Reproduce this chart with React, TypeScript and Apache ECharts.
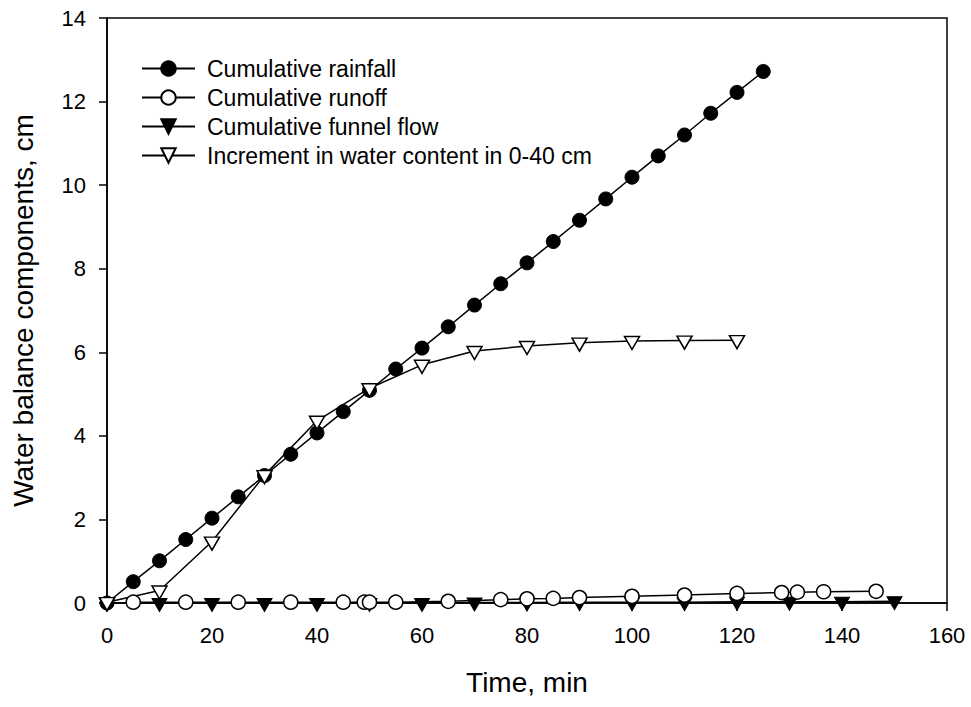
import React, { useEffect, useRef } from "react";
import * as echarts from "echarts";

const rainTime = [0, 5, 10, 15, 20, 25, 30, 35, 40, 45, 50, 55, 60, 65, 70, 75, 80, 85, 90, 95, 100, 105, 110, 115, 120, 125];
const rainValue = [0, 0.51, 1.01, 1.52, 2.03, 2.54, 3.05, 3.56, 4.07, 4.58, 5.09, 5.6, 6.1, 6.61, 7.13, 7.64, 8.14, 8.65, 9.16, 9.67, 10.19, 10.7, 11.2, 11.72, 12.22, 12.72];

const runoffTime = [5, 15, 25, 35, 45, 49, 50, 55, 65, 75, 80, 85, 90, 100, 110, 120, 128.5, 131.5, 136.5, 146.5];
const runoffValue = [0.02, 0.02, 0.02, 0.02, 0.02, 0.02, 0.02, 0.02, 0.04, 0.08, 0.1, 0.11, 0.13, 0.16, 0.19, 0.23, 0.25, 0.26, 0.27, 0.28];

const funnelTime = [0, 10, 20, 30, 40, 50, 60, 70, 80, 90, 100, 110, 120, 130, 140, 150];
const funnelValue = [0, 0, 0, 0, 0, 0, 0, 0.01, 0.01, 0.02, 0.02, 0.02, 0.03, 0.03, 0.03, 0.04];

const incTime = [0, 10, 20, 30, 40, 50, 60, 70, 80, 90, 100, 110, 120];
const incValue = [0.02, 0.3, 1.47, 3.06, 4.36, 5.14, 5.7, 6.03, 6.15, 6.23, 6.27, 6.28, 6.29];

const seriesNames = [
  "Cumulative rainfall",
  "Cumulative runoff",
  "Cumulative funnel flow",
  "Increment in water content in 0-40 cm",
];

const xTitle = "Time, min";
const yTitle = "Water balance components, cm";

const FONT = "'Liberation Sans', Arial, Helvetica, sans-serif";

const pair = (t: number[], v: number[]) => t.map((x, i) => [x, v[i]]);

export default function App() {
  const ref = useRef<HTMLDivElement>(null);
  useEffect(() => {
    if (!ref.current) return;
    const chart = echarts.init(ref.current, undefined, { renderer: "svg" });
    const lineStyle = { color: "#000", width: 1.5 };
    const axisCommon = {
      type: "value" as const,
      nameLocation: "middle" as const,
      nameTextStyle: { fontFamily: FONT, fontSize: 28, color: "#000" },
      axisLine: { show: true, lineStyle: { color: "#000", width: 1.5 } },
      axisTick: { show: true, inside: false, length: 8, lineStyle: { color: "#000", width: 1.5 } },
      axisLabel: { fontFamily: FONT, fontSize: 22, color: "#000", margin: 21 },
      splitLine: { show: false },
    };
    chart.setOption({
      animation: false,
      backgroundColor: "#fff",
      grid: {
        left: 107,
        top: 18,
        right: 24,
        bottom: 104,
        show: true,
        borderColor: "#000",
        borderWidth: 1.5,
      },
      xAxis: { ...axisCommon, min: 0, max: 160, interval: 20, name: xTitle, nameGap: 65 },
      yAxis: { ...axisCommon, min: 0, max: 14, interval: 2, name: yTitle, nameGap: 70 },
      legend: {
        orient: "vertical",
        left: 141,
        top: 57,
        padding: 0,
        itemWidth: 53,
        itemHeight: 18,
        itemGap: 6,
        data: seriesNames,
        textStyle: { fontFamily: FONT, fontSize: 23, color: "#000", padding: [0, 0, 0, 7] },
      },
      series: [
        {
          name: seriesNames[0],
          type: "line",
          data: pair(rainTime, rainValue),
          symbol: "circle",
          symbolSize: 14,
          lineStyle,
          itemStyle: { color: "#000", borderColor: "#000", borderWidth: 1 },
        },
        {
          name: seriesNames[2],
          type: "line",
          data: pair(funnelTime, funnelValue),
          symbol: "triangle",
          symbolRotate: 180,
          symbolSize: [15, 13],
          symbolOffset: [0, 2],
          lineStyle,
          itemStyle: { color: "#000", borderColor: "#000", borderWidth: 1 },
        },
        {
          name: seriesNames[1],
          type: "line",
          data: pair(runoffTime, runoffValue),
          symbol: "circle",
          symbolSize: 14,
          lineStyle,
          itemStyle: { color: "#fff", borderColor: "#000", borderWidth: 1.5 },
        },
        {
          name: seriesNames[3],
          type: "line",
          data: pair(incTime, incValue),
          symbol: "triangle",
          symbolRotate: 180,
          symbolSize: [15, 13],
          symbolOffset: [0, 2],
          lineStyle,
          itemStyle: { color: "#fff", borderColor: "#000", borderWidth: 1.5 },
        },
      ],
    });
    return () => chart.dispose();
  }, []);
  return (
    <div
      ref={ref}
      style={{ position: "fixed", left: 0, top: 0, width: 971, height: 707, background: "#fff" }}
    />
  );
}
